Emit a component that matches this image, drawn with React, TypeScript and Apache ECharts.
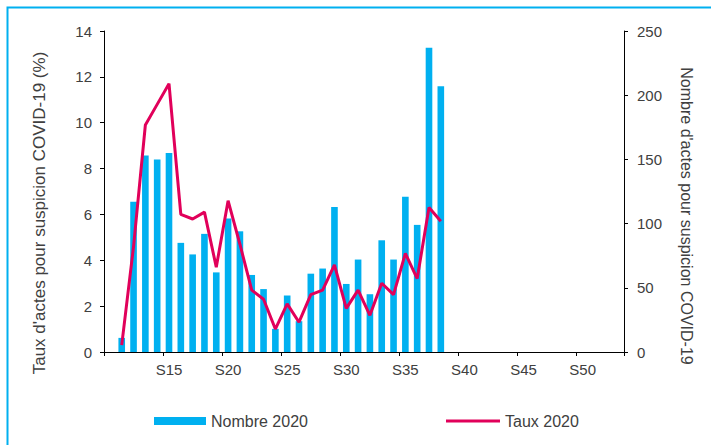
import React, { useEffect, useRef } from "react";
import * as echarts from "echarts";

const weeks = [
  "S10", "S11", "S12", "S13", "S14", "S15", "S16", "S17", "S18", "S19",
  "S20", "S21", "S22", "S23", "S24", "S25", "S26", "S27", "S28", "S29",
  "S30", "S31", "S32", "S33", "S34", "S35", "S36", "S37", "S38", "S39",
  "S40", "S41", "S42", "S43", "S44", "S45", "S46", "S47", "S48", "S49",
  "S50", "S51", "S52", "S53",
];

// Nombre d'actes (right axis), S10..S53
const nombre2020 = [
  null, 11, 117, 153, 150, 155, 85, 76, 92, 62,
  104, 94, 60, 49, 18, 44, 24, 61, 65, 113,
  53, 72, 45, 87, 72, 121, 99, 237, 207, null,
  null, null, null, null, null, null, null, null, null, null,
  null, null, null, null,
];

// Taux (%) (left axis), S10..S53
const taux2020 = [
  null, 0.3, 4.6, 9.9, 10.8, 11.7, 6.0, 5.8, 6.1, 3.7,
  6.6, 4.7, 2.7, 2.3, 1.0, 2.1, 1.3, 2.5, 2.7, 3.8,
  1.9, 2.7, 1.6, 3.0, 2.5, 4.3, 3.2, 6.3, 5.7, null,
  null, null, null, null, null, null, null, null, null, null,
  null, null, null, null,
];

const leftTicks = { min: 0, max: 14, interval: 2 };
const rightTicks = { min: 0, max: 250, interval: 50 };

const BLUE = "#00B0F0";
const RED = "#E1005A";
const TEXT = "#404040";
const FONT = "'Liberation Sans', Arial, sans-serif";

export default function App() {
  const ref = useRef<HTMLDivElement>(null);

  useEffect(() => {
    if (!ref.current) return;
    const chart = echarts.init(ref.current, null, { renderer: "svg" });
    const axisLine = { show: true, lineStyle: { color: "#000", width: 1 } };
    chart.setOption({
      animation: false,
      backgroundColor: "#fff",
      textStyle: { fontFamily: FONT },
      grid: { left: 104, right: 87, top: 31, bottom: 93, containLabel: false },
      legend: [
        {
          data: [{ name: "Nombre 2020", icon: "rect" }],
          left: 154,
          top: 413,
          padding: 0,
          itemWidth: 52,
          itemHeight: 8,
          textStyle: { fontSize: 16, color: TEXT, fontFamily: FONT },
          selectedMode: false,
        },
        {
          data: [{ name: "Taux 2020", icon: "rect" }],
          left: 446,
          top: 413,
          padding: 0,
          itemWidth: 54,
          itemHeight: 3,
          itemStyle: { color: RED },
          textStyle: { fontSize: 16, color: TEXT, fontFamily: FONT },
          selectedMode: false,
        },
      ],
      xAxis: {
        type: "category",
        data: weeks,
        boundaryGap: true,
        axisLine,
        axisTick: {
          show: true,
          length: 4,
          interval: (i: number) => i % 5 === 0,
          lineStyle: { color: "#000" },
        },
        axisLabel: {
          interval: (i: number) => i % 5 === 0 && i > 0,
          fontSize: 15,
          color: TEXT,
          fontFamily: FONT,
          margin: 10,
        },
        splitLine: { show: false },
      },
      yAxis: [
        {
          type: "value",
          position: "left",
          ...leftTicks,
          axisLine,
          axisTick: { show: true, length: 4, lineStyle: { color: "#000" } },
          axisLabel: { fontSize: 15, color: TEXT, fontFamily: FONT, margin: 12 },
          splitLine: { show: false },
        },
        {
          type: "value",
          position: "right",
          ...rightTicks,
          axisLine,
          axisTick: { show: true, length: 4, lineStyle: { color: "#000" } },
          axisLabel: { fontSize: 15, color: TEXT, fontFamily: FONT, margin: 13 },
          splitLine: { show: false },
        },
      ],
      series: [
        {
          name: "Nombre 2020",
          type: "bar",
          yAxisIndex: 1,
          data: nombre2020,
          barWidth: "56%",
          itemStyle: { color: BLUE },
          z: 2,
        },
        {
          name: "Taux 2020",
          type: "line",
          yAxisIndex: 0,
          data: taux2020,
          symbol: "none",
          showSymbol: false,
          lineStyle: { color: RED, width: 3 },
          itemStyle: { color: RED },
          connectNulls: false,
          z: 3,
        },
      ],
      graphic: [
        {
          type: "rect",
          shape: { x: 7.5, y: 7.5, width: 800, height: 800 },
          style: { fill: "none", stroke: BLUE, lineWidth: 2 },
          silent: true,
          z: 0,
        },
        {
          type: "text",
          x: 39,
          y: 213,
          rotation: Math.PI / 2,
          style: {
            text: "Taux d'actes pour suspicion COVID-19 (%)",
            fontSize: 17,
            fontFamily: FONT,
            fill: TEXT,
            align: "center",
            verticalAlign: "middle",
          },
        },
        {
          type: "text",
          x: 686,
          y: 216,
          rotation: -Math.PI / 2,
          style: {
            text: "Nombre d'actes pour suspicion COVID-19",
            fontSize: 16,
            fontFamily: FONT,
            fill: TEXT,
            align: "center",
            verticalAlign: "middle",
          },
        },
      ],
    });
    return () => chart.dispose();
  }, []);

  return (
    <div
      ref={ref}
      style={{ position: "fixed", left: 0, top: 0, width: 711, height: 445 }}
    />
  );
}
